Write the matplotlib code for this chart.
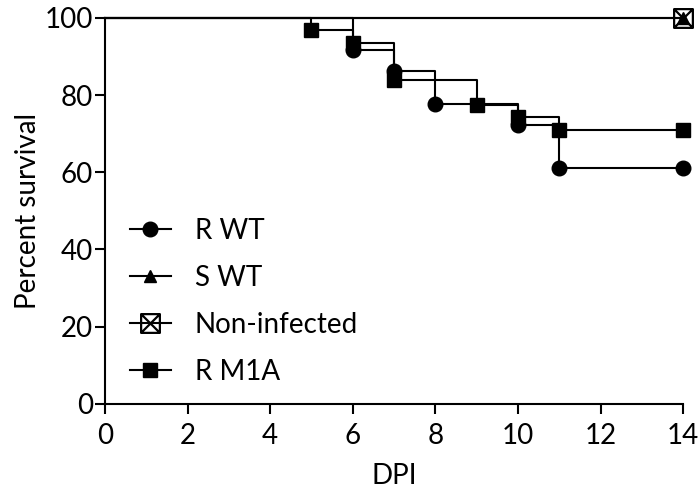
import matplotlib
matplotlib.use("Agg")
import matplotlib.pyplot as plt
from matplotlib.path import Path
from matplotlib.lines import Line2D

plt.rcParams["font.family"] = ["Lato", "DejaVu Sans"]
plt.rcParams["font.size"] = 20

# Survival data (days post infection, percent survival)
rwt_days = [0, 6, 7, 8, 10, 11, 14]
rwt_surv = [100, 91.7, 86.1, 77.8, 72.2, 61.1, 61.1]

swt_days = [0, 14]
swt_surv = [100, 100]

ni_days = [0, 14]
ni_surv = [100, 100]

rm1a_days = [0, 5, 6, 7, 9, 10, 11, 14]
rm1a_surv = [100, 96.8, 93.5, 83.9, 77.4, 74.2, 71.0, 71.0]

labels = ["R WT", "S WT", "Non-infected", "R M1A"]

# square with an X inside
box_x = Path([(-1, -1), (1, -1), (1, 1), (-1, 1), (-1, -1),
              (-1, -1), (1, 1), (-1, 1), (1, -1)],
             [Path.MOVETO, Path.LINETO, Path.LINETO, Path.LINETO, Path.CLOSEPOLY,
              Path.MOVETO, Path.LINETO, Path.MOVETO, Path.LINETO])

fig = plt.figure(figsize=(7, 4.95), dpi=100)
ax = fig.add_axes([0.15, 0.184, 0.826, 0.78])

lw = 1.5
for d, s in [(rwt_days, rwt_surv), (swt_days, swt_surv), (ni_days, ni_surv), (rm1a_days, rm1a_surv)]:
    ax.step(d, s, where="post", color="black", lw=lw, clip_on=False)

ms = 10.5
ax.plot(rwt_days[1:], rwt_surv[1:], ls="none", marker="o", ms=ms, color="black", clip_on=False, zorder=3)
ax.plot(rm1a_days[1:], rm1a_surv[1:], ls="none", marker="s", ms=ms, color="black", clip_on=False, zorder=4)
ax.plot(ni_days[1:], ni_surv[1:], ls="none", marker=box_x, ms=13.5, mfc="none", mec="black", mew=1.6,
        color="black", clip_on=False, zorder=5)
ax.plot(swt_days[1:], swt_surv[1:], ls="none", marker="^", ms=8, color="black", clip_on=False, zorder=6)

ax.set_xlim(0, 14)
ax.set_ylim(0, 100)
ax.set_xticks(range(0, 15, 2))
ax.set_yticks(range(0, 101, 20))
ax.spines["top"].set_visible(False)
ax.spines["right"].set_visible(False)
for sp in ["left", "bottom"]:
    ax.spines[sp].set_linewidth(lw)
ax.tick_params(axis="x", direction="out", length=7.5, width=lw, labelsize=20, pad=6)
ax.tick_params(axis="y", direction="out", length=7.5, width=lw, labelsize=20, pad=1)

ax.set_xlabel("DPI", fontsize=20, labelpad=10)
ax.set_ylabel("Percent survival", fontsize=20, labelpad=3)

handles = [
    Line2D([], [], color="black", lw=lw, marker="o", ms=ms),
    Line2D([], [], color="black", lw=lw, marker="^", ms=8),
    Line2D([], [], color="black", lw=lw, marker=box_x, ms=13.5, mfc="none", mew=1.6),
    Line2D([], [], color="black", lw=lw, marker="s", ms=ms),
]
ax.legend(handles, labels, frameon=False, loc="lower left", bbox_to_anchor=(0.0, -0.015),
          handlelength=1.47, handletextpad=0.86, labelspacing=0.75, fontsize=20)

fig.savefig("out.png", dpi=100)
